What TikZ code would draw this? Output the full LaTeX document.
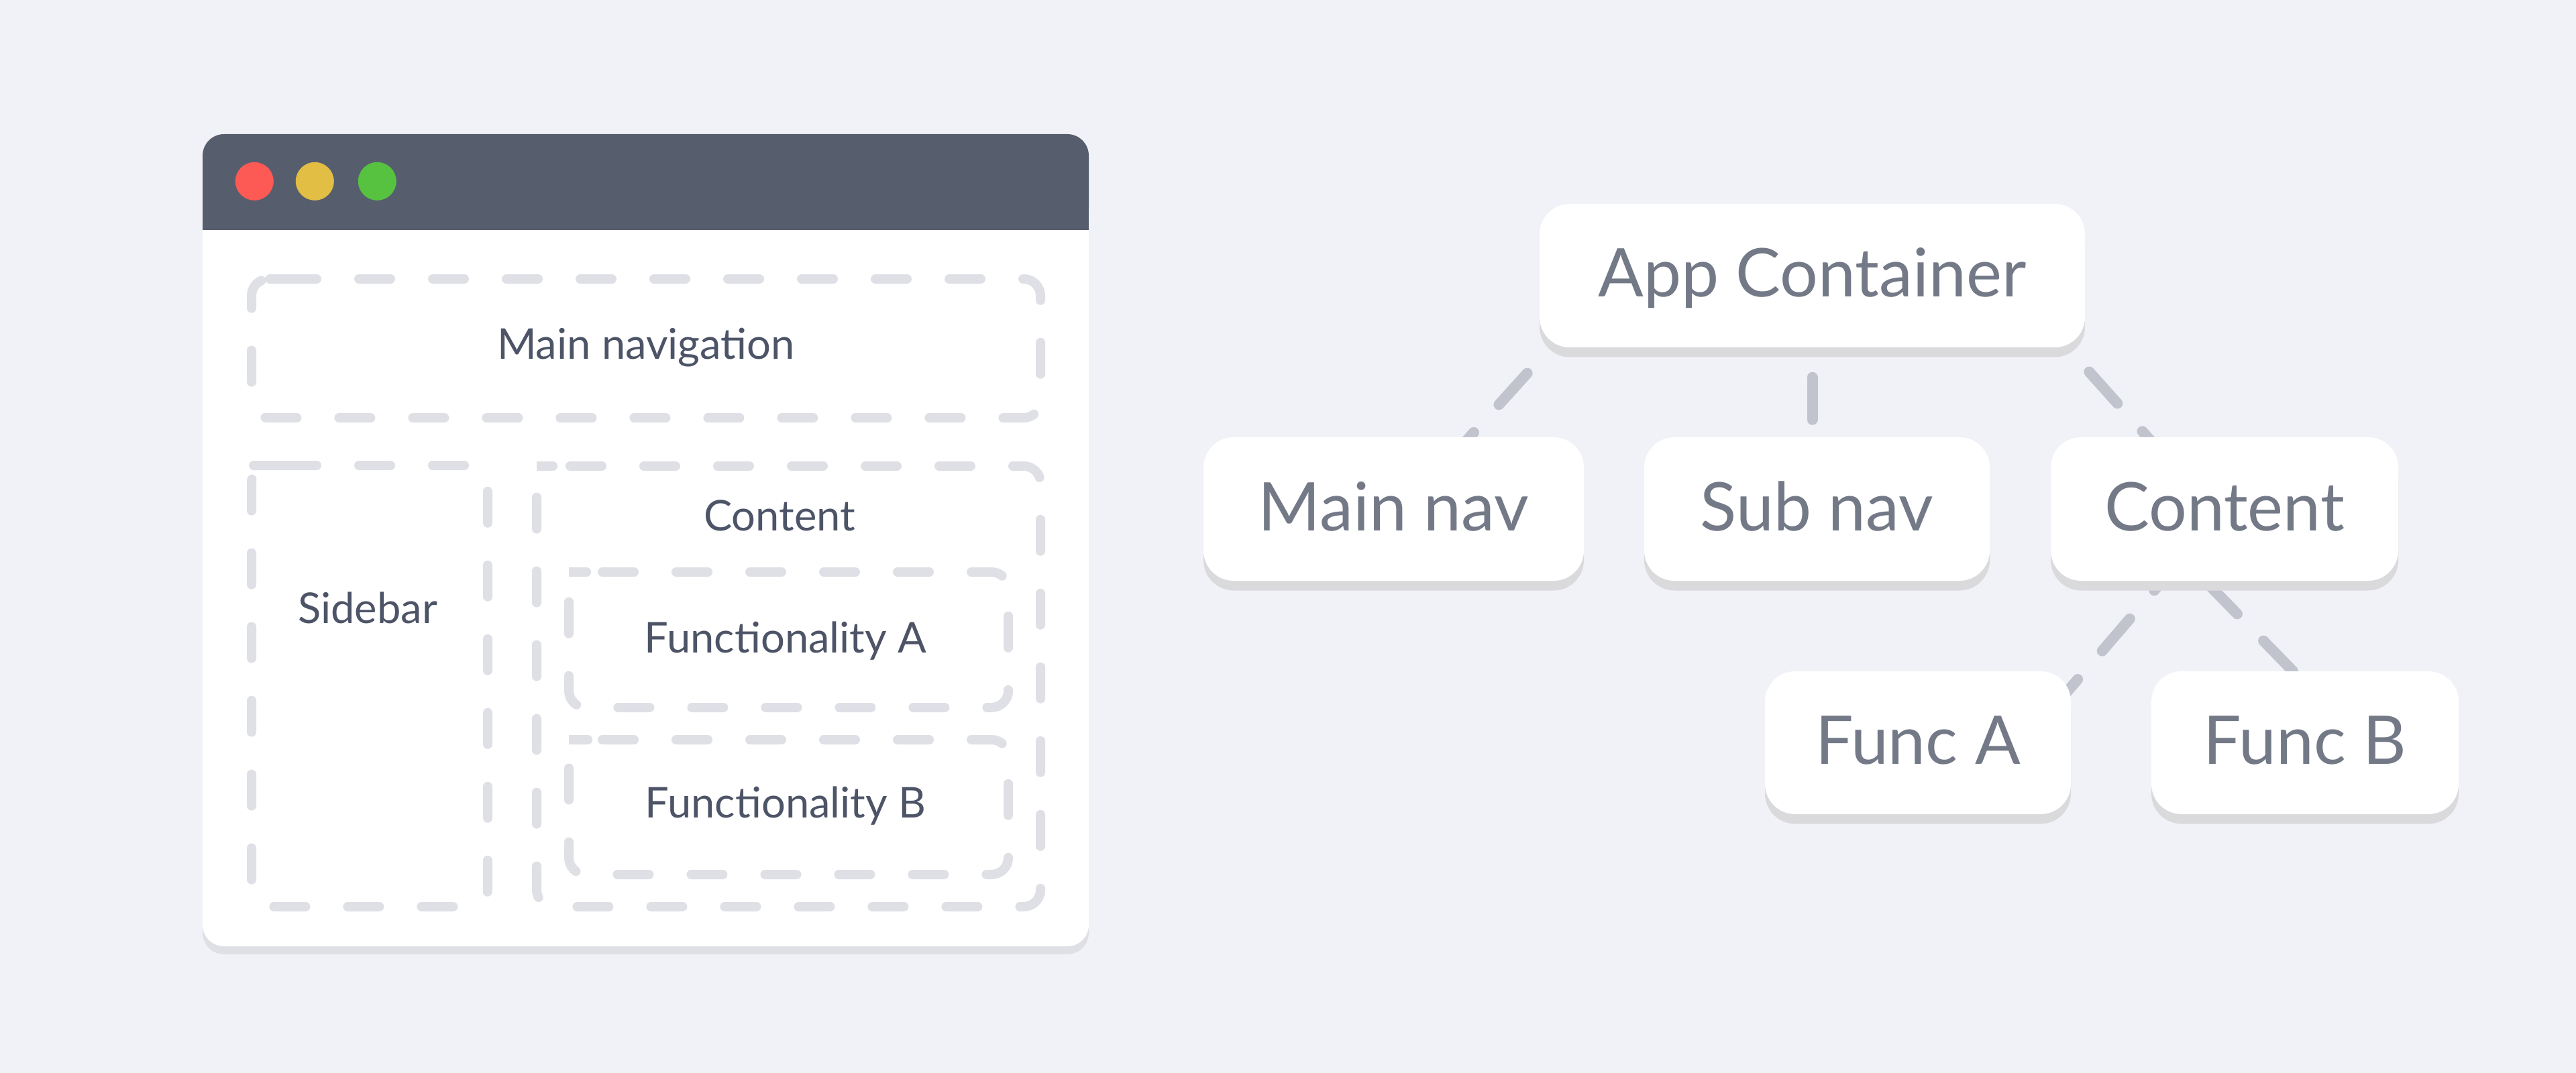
\documentclass[tikz,border=0pt]{standalone}
\usepackage{fontspec}
\setmainfont{Lato}
\usetikzlibrary{calc,shadows,backgrounds}

\definecolor{bgpage}{HTML}{F1F2F7}
\definecolor{titlebar}{HTML}{565E6E}
\definecolor{dotred}{HTML}{FE5A55}
\definecolor{dotyellow}{HTML}{E2BE45}
\definecolor{dotgreen}{HTML}{56C23F}
\definecolor{winshadow}{HTML}{DFE0E5}
\definecolor{boxdash}{HTML}{DFE0E6}
\definecolor{panelink}{HTML}{4D5467}
\definecolor{treeink}{HTML}{737986}
\definecolor{linkgrey}{HTML}{C2C4CD}
\definecolor{nodeshadow}{HTML}{DADADD}

\tikzset{
	dashbox/.style={draw=boxdash, line width=0.14cm, line cap=round, dash pattern=on 0.47cm off 0.63cm, rounded corners=0.25cm},
	paneltext/.style={text=panelink, anchor=base, inner sep=0pt, font=\fontsize{18}{20}\selectfont},
	treebox/.style={fill=white, rounded corners=0.45cm, inner sep=0pt, minimum height=2.14cm, text height=0.64cm, text depth=0pt, text=treeink, font=\fontsize{28.5}{30}\selectfont, drop shadow={shadow xshift=0cm, shadow yshift=-0.145cm, fill=nodeshadow, opacity=1}},
	link/.style={draw=linkgrey, line width=0.16cm, line cap=round, dash pattern=on 0.63cm off 0.56cm}
}

\begin{document}
\begin{tikzpicture}
		\useasboundingbox (0,0) rectangle (38.4,-16);
		% browser window
		\fill[winshadow, rounded corners=0.32cm] (3.02,-2.12) rectangle (16.23,-14.23);
		\fill[white, rounded corners=0.32cm] (3.02,-2.00) rectangle (16.23,-14.11);
		\fill[titlebar, rounded corners=0.32cm] (3.02,-2.00) rectangle (16.23,-3.43);
		\fill[titlebar] (3.02,-3.00) rectangle (16.23,-3.43);
		\fill[dotred] (3.793,-2.703) circle (0.285);
		\fill[dotyellow] (4.693,-2.703) circle (0.285);
		\fill[dotgreen] (5.623,-2.703) circle (0.285);
		% layout regions
		\draw[dashbox] (4.00,-4.16) -- (15.51,-4.16) -- (15.51,-6.23) -- (3.75,-6.23) -- (3.75,-4.16) -- cycle;
		\draw[dashbox] (4.00,-6.94) -- (7.27,-6.94) -- (7.27,-13.52) -- (3.75,-13.52) -- (3.75,-6.94) -- cycle;
		\draw[dashbox] (8.25,-6.95) -- (15.51,-6.95) -- (15.51,-13.52) -- (8.00,-13.52) -- (8.00,-6.95) -- cycle;
		\draw[dashbox] (8.73,-8.53) -- (15.03,-8.53) -- (15.03,-10.55) -- (8.48,-10.55) -- (8.48,-8.53) -- cycle;
		\draw[dashbox] (8.73,-11.03) -- (15.03,-11.03) -- (15.03,-13.04) -- (8.48,-13.04) -- (8.48,-11.03) -- cycle;
		\node[paneltext] (lmainnav) at (9.63,-5.36) {Main navigation};
		\node[paneltext] (lcontent) at (11.62,-7.91) {Content};
		\node[paneltext] (lsidebar) at (5.48,-9.29) {Sidebar};
		\node[paneltext] (lfunca) at (11.71,-9.73) {Functionality A};
		\node[paneltext] (lfuncb) at (11.71,-12.19) {Functionality B};
		% component tree
		\node[treebox, minimum width=8.13cm] (app) at (27.015,-4.11) {App Container};
		\node[treebox, minimum width=5.67cm] (mainnav) at (20.775,-7.59) {Main nav};
		\node[treebox, minimum width=5.15cm] (subnav) at (27.085,-7.59) {Sub nav};
		\node[treebox, minimum width=5.18cm] (content) at (33.16,-7.59) {Content};
		\node[treebox, minimum width=4.56cm, minimum height=2.13cm] (funca) at (28.59,-11.075) {Func A};
		\node[treebox, minimum width=4.58cm, minimum height=2.13cm] (funcb) at (34.36,-11.075) {Func B};
		\begin{scope}[on background layer]
		\fill[bgpage] (0,0) rectangle (38.4,-16);
		\draw[link, dash phase=0.68cm] ($(app.south west)+(0.165,0)$) -- ($(mainnav.center)+(0.165,0)$);
		\draw[link, dash phase=0.75cm] (app.south) -- (app.south |- subnav.center);
		\draw[link, dash phase=0.71cm] ($(app.south east)+(-0.264,0)$) -- ($(content.center)+(-0.19,0)$);
		\draw[link, dash phase=0.45cm] ($(content.south)+(-0.93,0)$) -- ($(funca.center)+(1.57,0)$);
		\draw[link, dash phase=1.14cm] ($(content.south)+(-0.285,0)$) -- ($(funcb.center)+(0.86,0)$);
		\end{scope}
		\end{tikzpicture}
\end{document}
